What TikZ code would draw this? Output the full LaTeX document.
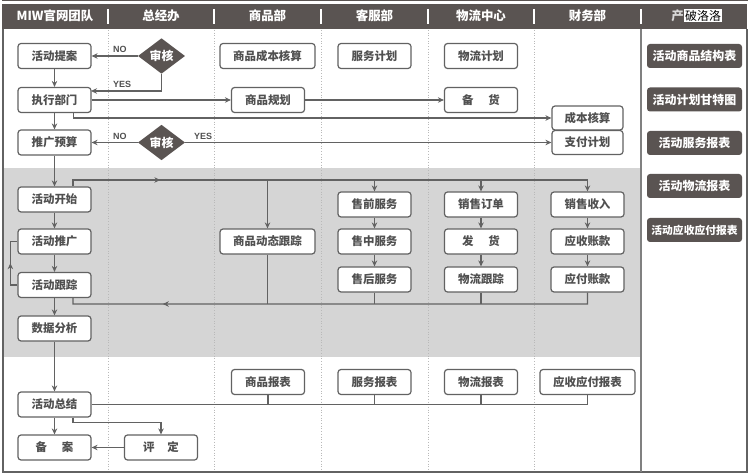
\documentclass[tikz,border=0pt]{standalone}
\usepackage{fontspec}
\newfontfamily\cjk{Noto Sans CJK SC}
\setmainfont{Liberation Sans}
\usetikzlibrary{arrows.meta,shapes.geometric,decorations.markings}
\definecolor{hdr}{HTML}{5A5452}
\definecolor{lc}{HTML}{626262}
\definecolor{tc}{HTML}{505050}
\definecolor{band}{HTML}{D5D5D5}
\pgfdeclarelayer{bg}
\pgfsetlayers{bg,main}
\tikzset{
  box/.style={draw=lc, line width=1.2bp, rounded corners=3bp, fill=white, text=tc,
    font=\cjk\bfseries\fontsize{11.5}{12}\selectfont, minimum width=73bp, minimum height=25bp, inner sep=0pt},
  wbox/.style={box, minimum width=95bp},
  outbox/.style={draw=none, rounded corners=3bp, fill=hdr, text=white,
    font=\cjk\bfseries\fontsize{12}{12}\selectfont, minimum width=95bp, minimum height=24bp, inner sep=0pt},
  dia/.style={diamond, fill=hdr, text=white, font=\cjk\bfseries\fontsize{12}{12}\selectfont,
    minimum width=47bp, minimum height=32bp, inner sep=0pt},
  hd/.style={text=white, font=\cjk\bfseries\fontsize{12.5}{12.5}\selectfont},
  con/.style={draw=lc, line width=1.3bp},
  arr/.style={con, -{Stealth[length=6bp,width=5.5bp]}},
  midarrow/.style={con, postaction={decorate}, decoration={markings,
    mark=at position #1 with {\arrow[lc]{Stealth[length=6bp,width=5.5bp]}}}},
  yn/.style={text=tc, font=\bfseries\fontsize{9}{9}\selectfont, inner sep=0pt},
  sep/.style={draw=white, line width=1.5bp},
  dot/.style={draw=gray!55, dotted, line width=0.7bp}
}
\begin{document}
\begin{tikzpicture}[x=1bp,y=-1bp]
\useasboundingbox (0,0) rectangle (750,475);
\begin{pgfonlayer}{bg}
  \fill[white] (0,0) rectangle (750,475);
  \fill[band] (3,168) rectangle (641,357);
  \foreach \xx in {108,214,321,428,534} \draw[dot] (\xx,30) -- (\xx,472);
\end{pgfonlayer}
% frame
\draw[draw=hdr, line width=1bp] (2,1) -- (748,1);
\fill[hdr] (2,4) rectangle (747,29);
\draw[draw=lc, line width=1.3bp] (3,29) -- (3,472) -- (747,472) -- (747,29);
\draw[draw=gray, line width=1.6bp] (641,29) -- (641,472);
\foreach \xx in {108,214,321,428,534,641} \draw[sep] (\xx,9) -- (\xx,24);
% headers
\node[hd] (h1) at (55,16) {MIW官网团队};
\node[hd] (h2) at (161,16) {总经办};
\node[hd] (h3) at (267.5,16) {商品部};
\node[hd] (h4) at (374.5,16) {客服部};
\node[hd] (h5) at (481,16) {物流中心};
\node[hd] (h6) at (587.5,16) {财务部};
\node[hd, text=gray!30, anchor=east, inner sep=0pt] (h7a) at (684,16) {产};
\node[fill=white, text=black, font=\cjk\fontsize{12}{12}\selectfont, inner sep=1pt, anchor=west] (h7b) at (684,16) {破洛洛};
% column 1
\node[box] (tian) at (54.5,56) {活动提案};
\node[box] (exec) at (54.5,100) {执行部门};
\node[box] (tgys) at (54.5,142.5) {推广预算};
\node[box] (start) at (54.5,199.5) {活动开始};
\node[box] (promo) at (54.5,241.5) {活动推广};
\node[box] (track) at (54.5,285) {活动跟踪};
\node[box] (sjfx) at (54.5,328.5) {数据分析};
\node[box] (summ) at (54.5,404.5) {活动总结};
\node[box] (ba) at (54.5,447.5) {备\hspace{1.3em}案};
% column 2
\node[dia] (d1) at (161.5,56) {审核};
\node[dia] (d2) at (161.5,142.5) {审核};
\node[box] (pd) at (161,447.5) {评\hspace{1.1em}定};
% column 3
\node[wbox] (spcb) at (267.5,56) {商品成本核算};
\node[box] (spgh) at (268,100) {商品规划};
\node[wbox] (spdt) at (267.5,241.5) {商品动态跟踪};
\node[box] (spbb) at (268,382) {商品报表};
% column 4
\node[box] (fwjh) at (374.5,56) {服务计划};
\node[box] (sqfw) at (374.5,204.5) {售前服务};
\node[box] (szfw) at (374.5,241.5) {售中服务};
\node[box] (shfw) at (374.5,279.5) {售后服务};
\node[box] (fwbb) at (374.5,382) {服务报表};
% column 5
\node[box] (wljh) at (481,56) {物流计划};
\node[box] (bh) at (481,100) {备\hspace{1.3em}货};
\node[box] (xsdd) at (481,204.5) {销售订单};
\node[box] (fh) at (481,241.5) {发\hspace{1.3em}货};
\node[box] (wlgz) at (481,279.5) {物流跟踪};
\node[box] (wlbb) at (481,382) {物流报表};
% column 6
\node[box, minimum width=71bp, minimum height=24bp] (cbhs) at (587.5,118) {成本核算};
\node[box, minimum width=71bp, minimum height=24bp] (zfjh) at (587.5,142.5) {支付计划};
\node[box] (xssr) at (587.5,204.5) {销售收入};
\node[box] (yszk) at (587.5,241.5) {应收账款};
\node[box] (yfzk) at (587.5,279.5) {应付账款};
\node[wbox] (ysyf) at (587.5,382) {应收应付报表};
% outputs
\node[outbox] (o1) at (694.5,56) {活动商品结构表};
\node[outbox] (o2) at (694.5,99.5) {活动计划甘特图};
\node[outbox] (o3) at (694.5,143) {活动服务报表};
\node[outbox] (o4) at (694.5,186) {活动物流报表};
\node[outbox, font=\cjk\bfseries\fontsize{10.8}{11}\selectfont] (o5) at (694.5,230) {活动应收应付报表};
% coordinates
\coordinate (yes1) at (91,91);
\coordinate (topR) at (587.5,180);
\coordinate (collL) at (73,304);
% top section connectors
\draw[arr] (tian) -- (exec);
\draw[arr] (d1.west) -- (tian.east);
\draw[arr] (d1.south) |- (yes1);
\draw[arr] (exec) -- (spgh);
\draw[arr] (spgh) -- (bh);
\draw[arr] ([xshift=19bp]exec.south) |- (cbhs.west);
\draw[arr] (exec) -- (tgys);
\draw[arr] (d2.west) -- (tgys.east);
\draw[arr] (d2.east) -- (zfjh.west);
\node[yn, anchor=south west] (no1) at (113,53) {NO};
\node[yn, anchor=south west] (yes1l) at (113,88) {YES};
\node[yn, anchor=south west] (no2) at (113,139.5) {NO};
\node[yn, anchor=south west] (yes2) at (194,139.5) {YES};
\draw[arr] (tgys) -- (start);
% band
\draw[midarrow=0.18] ([xshift=18.5bp]start.north) |- (topR);
\draw[arr] (topR) -- (xssr.north);
\draw[arr] (spdt.north |- topR) -- (spdt.north);
\draw[arr] (sqfw.north |- topR) -- (sqfw.north);
\draw[arr] (xsdd.north |- topR) -- (xsdd.north);
\draw[arr] (start) -- (promo);
\draw[arr] (promo) -- (track);
\draw[arr] (track) -- (sjfx);
\draw[midarrow=0.5] (track.west) -- ++(-7,0) |- (promo.west);
\draw[arr] (sqfw) -- (szfw);
\draw[arr] (szfw) -- (shfw);
\draw[arr] (xsdd) -- (fh);
\draw[arr] (fh) -- (wlgz);
\draw[arr] (xssr) -- (yszk);
\draw[arr] (yszk) -- (yfzk);
\draw[midarrow=0.82] (yfzk.south) |- (collL) -- ([xshift=18.5bp]track.south);
\draw[con] (wlgz.south) -- (wlgz.south |- collL);
\draw[con] (shfw.south) -- (shfw.south |- collL);
\draw[con] (spdt.south) -- (spdt.south |- collL);
% bottom
\draw[arr] (sjfx) -- (summ);
\draw[con] (summ.east) -- (ysyf.south |- summ.east) -- (ysyf.south);
\draw[con] (spbb.south) -- (spbb.south |- summ.east);
\draw[con] (fwbb.south) -- (fwbb.south |- summ.east);
\draw[con] (wlbb.south) -- (wlbb.south |- summ.east);
\draw[arr] (summ) -- (ba);
\draw[arr] ([xshift=18.5bp]summ.south) -- ++(0,5) -| (pd.north);
\draw[arr] (pd) -- (ba);
\end{tikzpicture}
\end{document}
